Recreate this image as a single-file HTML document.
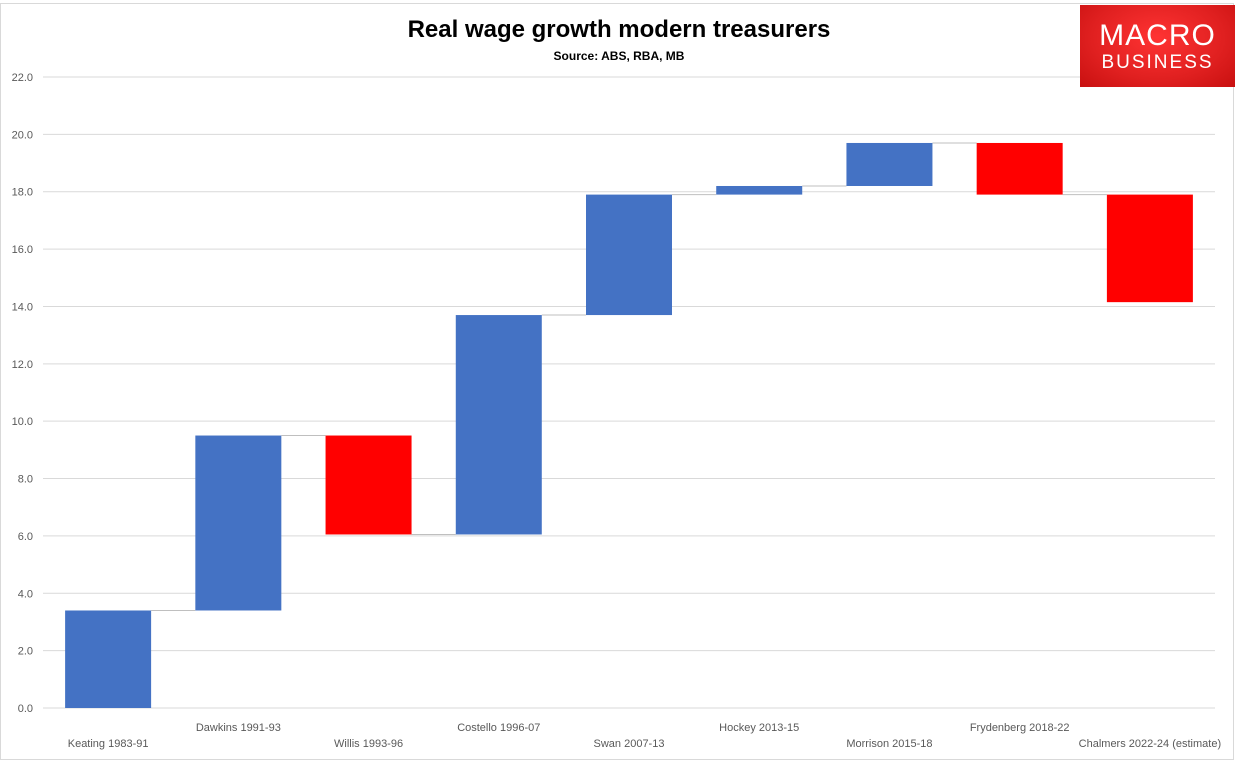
<!DOCTYPE html>
<html><head><meta charset="utf-8"><style>
body{margin:0;background:#fff;width:1240px;height:762px;overflow:hidden;font-family:"Liberation Sans",sans-serif}
#frame{position:absolute;left:0;top:3px;width:1234px;height:757px;border:1px solid #d9d9d9;box-sizing:border-box}
#logo{position:absolute;left:1080px;top:5px;width:155px;height:82px;background:radial-gradient(ellipse at 50% 40%,#f33 0%,#e02020 60%,#c81010 100%);color:#fff;text-align:center}
#logo .a{position:absolute;left:0;right:0;top:16px;font-size:30px;letter-spacing:1px;line-height:30px}
#logo .b{position:absolute;left:0;right:0;top:48px;font-size:19px;letter-spacing:2px;line-height:20px}
</style></head><body>
<div id="frame"></div>
<svg width="1240" height="762" style="position:absolute;left:0;top:0" id="chart">
<text x="619" y="37" text-anchor="middle" font-size="24" font-weight="bold">Real wage growth modern treasurers</text>
<text x="619" y="60" text-anchor="middle" font-size="12" font-weight="bold">Source: ABS, RBA, MB</text>
<g id="grid"></g><g id="conn"></g><g id="bars"></g><g id="yt"></g><g id="xt"></g>
</svg>
<div id="logo"><div class="a">MACRO</div><div class="b">BUSINESS</div></div>
<script>
const categories=["Keating 1983-91","Dawkins 1991-93","Willis 1993-96","Costello 1996-07","Swan 2007-13","Hockey 2013-15","Morrison 2015-18","Frydenberg 2018-22","Chalmers 2022-24 (estimate)"];
const changes=[3.4,6.1,-3.45,7.65,4.2,0.3,1.5,-1.8,-3.75];
const yTicks=[0,2,4,6,8,10,12,14,16,18,20,22];
const NS="http://www.w3.org/2000/svg";
const x0=43,x1=1215,yBase=708,yTop=77,yMax=22;
const y=v=>yBase-(yBase-yTop)*v/yMax;
const band=(x1-x0)/categories.length;
const xc=i=>x0+band*(i+0.5);
function mk(t,a,p){const e=document.createElementNS(NS,t);for(const k in a)e.setAttribute(k,a[k]);document.getElementById(p).appendChild(e);return e;}
yTicks.forEach(v=>{
 const l=mk('line',{x1:x0,x2:x1,y1:y(v),y2:y(v),stroke:'#d9d9d9','stroke-width':1},'grid');
 
 
 const t=mk('text',{x:33,y:y(v)+4,'text-anchor':'end','font-size':11,fill:'#595959'},'yt');
 t.textContent=v.toFixed(1);
 
 
});
let cum=0;const bw=86;
changes.forEach((d,i)=>{
 const s=cum,e=cum+d;cum=e;
 const r=mk('rect',{x:xc(i)-bw/2,y:y(Math.max(s,e)),width:bw,height:Math.abs(y(s)-y(e)),fill:d>=0?'#4472c4':'#ff0000'},'bars');
 
 
 if(i<changes.length-1){
  const c=mk('line',{x1:xc(i)+bw/2,x2:xc(i+1)-bw/2,y1:y(e),y2:y(e),stroke:'#bfbfbf','stroke-width':1},'conn');
  
  
 }
 const t=mk('text',{x:xc(i),y:i%2?731:747,'text-anchor':'middle','font-size':11,fill:'#595959'},'xt');
 t.textContent=categories[i];
 
 
});
</script>
</body></html>
